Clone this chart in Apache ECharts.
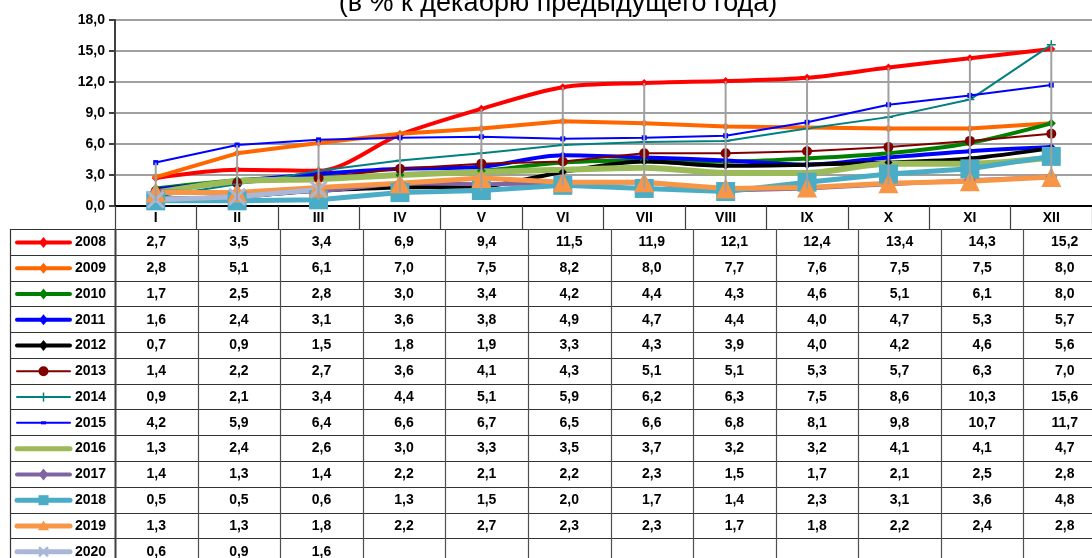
<!DOCTYPE html>
<html>
<head>
<meta charset="utf-8">
<script src="https://cdn.jsdelivr.net/npm/echarts@6/dist/echarts.min.js"></script>
<style>
html,body{margin:0;padding:0;background:#fff;}
#chart{width:1092px;height:558px;}
</style>
</head>
<body>
<div id="chart"></div>
<script>
// ---------- data ----------
const titleText = '(в % к декабрю предыдущего года)';
const categories = ['I','II','III','IV','V','VI','VII','VIII','IX','X','XI','XII'];
const years = ['2008','2009','2010','2011','2012','2013','2014','2015','2016','2017','2018','2019','2020'];
const v2008 = [2.7,3.5,3.4,6.9,9.4,11.5,11.9,12.1,12.4,13.4,14.3,15.2];
const v2009 = [2.8,5.1,6.1,7.0,7.5,8.2,8.0,7.7,7.6,7.5,7.5,8.0];
const v2010 = [1.7,2.5,2.8,3.0,3.4,4.2,4.4,4.3,4.6,5.1,6.1,8.0];
const v2011 = [1.6,2.4,3.1,3.6,3.8,4.9,4.7,4.4,4.0,4.7,5.3,5.7];
const v2012 = [0.7,0.9,1.5,1.8,1.9,3.3,4.3,3.9,4.0,4.2,4.6,5.6];
const v2013 = [1.4,2.2,2.7,3.6,4.1,4.3,5.1,5.1,5.3,5.7,6.3,7.0];
const v2014 = [0.9,2.1,3.4,4.4,5.1,5.9,6.2,6.3,7.5,8.6,10.3,15.6];
const v2015 = [4.2,5.9,6.4,6.6,6.7,6.5,6.6,6.8,8.1,9.8,10.7,11.7];
const v2016 = [1.3,2.4,2.6,3.0,3.3,3.5,3.7,3.2,3.2,4.1,4.1,4.7];
const v2017 = [1.4,1.3,1.4,2.2,2.1,2.2,2.3,1.5,1.7,2.1,2.5,2.8];
const v2018 = [0.5,0.5,0.6,1.3,1.5,2.0,1.7,1.4,2.3,3.1,3.6,4.8];
const v2019 = [1.3,1.3,1.8,2.2,2.7,2.3,2.3,1.7,1.8,2.2,2.4,2.8];
const v2020 = [0.6,0.9,1.6,null,null,null,null,null,null,null,null,null];
const yMin = 0, yMax = 18, yStep = 3;

const allValues = [v2008,v2009,v2010,v2011,v2012,v2013,v2014,v2015,v2016,v2017,v2018,v2019,v2020];

// ---------- styles ----------
const FONT = '"Liberation Sans", Arial, sans-serif';
const plusPath = 'path://M5,0L5,10M0,5L10,5';
const xPath = 'path://M0,0L10,10M10,0L0,10';
const styles = [
  {color:'#FF0000', w:4, sym:'diamond', size:8, smooth:0.3, lw:4, ls:11},
  {color:'#FF6600', w:4, sym:'diamond', size:8, lw:4, ls:11},
  {color:'#008000', w:4, sym:'diamond', size:9, smooth:0.3, lw:4, ls:11},
  {color:'#0000FF', w:4, sym:'diamond', size:8, smooth:0.3, lw:4, ls:11},
  {color:'#000000', w:4, sym:'diamond', size:8, smooth:0.3, lw:4, ls:11},
  {color:'#800000', w:2, sym:'circle', size:10, lw:2, ls:10},
  {color:'#008080', w:2, sym:'plus', size:9, stroke:1.5, lw:2, ls:9},
  {color:'#0000FF', w:2, sym:'rect', size:5, lw:2, ls:5},
  {color:'#9BBB59', w:6, sym:'none', size:0, smooth:0.3, lw:5, ls:0},
  {color:'#8064A2', w:4, sym:'diamond', size:12, lw:4, ls:12},
  {color:'#4BACC6', w:5, sym:'rect', size:19, lw:5, ls:10},
  {color:'#F79646', w:5, sym:'triangle', size:20, lw:5, ls:11},
  {color:'#A9B8D9', w:5, sym:'x', size:16, stroke:3, lw:5, ls:9}
];
const symMap = {plus: plusPath, x: xPath};

// ---------- layout ----------
const G_LEFT = 115, G_TOP = 20, G_W = 991, G_H = 186;
const TABLE_LEFT = 10, TABLE_TOP = 229, ROW_H = 25.78;
const COL_W = G_W / categories.length;
const LEG_X1 = 17, LEG_X2 = 70, LEG_TEXT_X = 75;

const chart = echarts.init(document.getElementById('chart'));

const series = years.map((y, i) => {
  const s = styles[i];
  return {
    name: y, type: 'line', data: allValues[i],
    symbol: symMap[s.sym] || s.sym, symbolSize: s.size, showSymbol: s.sym !== 'none',
    smooth: s.smooth || false,
    lineStyle: {color: s.color, width: s.w},
    itemStyle: {color: s.color, borderColor: s.color, borderWidth: s.stroke || 0},
    emphasis: {disabled: true},
    animation: false, z: 2
  };
});

const hiLo = categories.map((c, i) => {
  const vals = allValues.map(a => a[i]).filter(v => v !== null);
  return [i, Math.min(...vals), Math.max(...vals)];
});
series.push({
  type: 'custom', name: 'hilo', data: hiLo, z: 5, animation: false,
  renderItem: function (params, api) {
    const lo = api.coord([api.value(0), api.value(1)]);
    const hi = api.coord([api.value(0), api.value(2)]);
    return {type: 'line', shape: {x1: lo[0], y1: lo[1], x2: hi[0], y2: hi[1]},
            style: {stroke: '#A0A0A0', lineWidth: 2}};
  }
});

// legend symbol builder
function legendSymbol(s, cx, cy) {
  const h = s.ls / 2;
  const st = {fill: s.color, stroke: s.color, lineWidth: 0};
  switch (s.sym) {
    case 'diamond': return {type:'polygon', shape:{points:[[cx,cy-h],[cx+h*0.8,cy],[cx,cy+h],[cx-h*0.8,cy]]}, style: st, z: 11};
    case 'circle': return {type:'circle', shape:{cx: cx, cy: cy, r: h}, style: st, z: 11};
    case 'rect': return {type:'rect', shape:{x: cx-h, y: cy-h*(s.ls>6?1:0.6), width: s.ls, height: s.ls*(s.ls>6?1:0.6)}, style: st, z: 11};
    case 'triangle': return {type:'polygon', shape:{points:[[cx,cy-h],[cx+h,cy+h*0.8],[cx-h,cy+h*0.8]]}, style: st, z: 11};
    case 'plus': return {type:'group', z: 11, children:[
      {type:'line', shape:{x1:cx,y1:cy-h,x2:cx,y2:cy+h}, style:{stroke:s.color, lineWidth:1.5}, z: 11},
      {type:'line', shape:{x1:cx-h,y1:cy,x2:cx+h,y2:cy}, style:{stroke:s.color, lineWidth:1.5}, z: 11}]};
    case 'x': return {type:'group', z: 11, children:[
      {type:'line', shape:{x1:cx-h,y1:cy-h,x2:cx+h,y2:cy+h}, style:{stroke:s.color, lineWidth:2.5}, z: 11},
      {type:'line', shape:{x1:cx+h,y1:cy-h,x2:cx-h,y2:cy+h}, style:{stroke:s.color, lineWidth:2.5}, z: 11}]};
    default: return null;
  }
}

// table graphics
const graphics = [];
graphics.push({type:'text', x: 558, y: 4, z: 10,
  style:{text: titleText, font: '27px ' + FONT, fill:'#000', align:'center', verticalAlign:'middle'}});
const nRows = years.length;
const tableRight = G_LEFT + G_W;
for (let r = 0; r <= nRows; r++) {
  const y = Math.round(TABLE_TOP + r * ROW_H) + 0.5;
  graphics.push({type:'line', shape:{x1: TABLE_LEFT, y1: y, x2: tableRight, y2: y},
    style:{stroke:'#333', lineWidth:1.2}, z: 10});
}
graphics.push({type:'line', shape:{x1: TABLE_LEFT + 0.5, y1: TABLE_TOP, x2: TABLE_LEFT + 0.5, y2: 558},
  style:{stroke:'#333', lineWidth:1.2}, z: 10});
for (let c = 0; c <= categories.length; c++) {
  const x = Math.round(G_LEFT + c * COL_W) + 0.5;
  graphics.push({type:'line', shape:{x1: x, y1: TABLE_TOP, x2: x, y2: 558},
    style:{stroke: c === 0 ? '#404040' : '#505050', lineWidth: c === 0 ? 2 : 1.2}, z: 10});
}
for (let r = 0; r < nRows; r++) {
  const cy = TABLE_TOP + (r + 0.5) * ROW_H + 0.5;
  const s = styles[r];
  // legend key
  graphics.push({type:'line', shape:{x1: LEG_X1, y1: cy, x2: LEG_X2, y2: cy},
    style:{stroke: s.color, lineWidth: s.lw, lineCap: 'round'}, z: 10});
  const sym = legendSymbol(s, (LEG_X1 + LEG_X2) / 2, cy);
  if (sym) graphics.push(sym);
  graphics.push({type:'text', x: LEG_TEXT_X, y: cy, z: 10,
    style:{text: years[r], font:'bold 14px ' + FONT, fill:'#000', align:'left', verticalAlign:'middle'}});
  for (let c = 0; c < categories.length; c++) {
    const v = allValues[r][c];
    if (v === null) continue;
    graphics.push({type:'text', x: G_LEFT + (c + 0.5) * COL_W, y: cy, z: 10,
      style:{text: v.toFixed(1).replace('.', ','), font:'bold 14px ' + FONT, fill:'#000',
             align:'center', verticalAlign:'middle'}});
  }
}

chart.setOption({
  animation: false,
  backgroundColor: '#fff',
  textStyle: {fontFamily: FONT},
  grid: {left: G_LEFT, top: G_TOP, width: G_W, height: G_H, containLabel: false},
  xAxis: {
    type: 'category', data: categories, boundaryGap: true,
    axisLine: {lineStyle: {color: '#000', width: 2}},
    axisTick: {show: true, length: 23, lineStyle: {color: '#404040', width: 1.2}},
    axisLabel: {fontFamily: FONT, fontSize: 14, fontWeight: 'bold', color: '#000', margin: 5},
    splitLine: {show: false}
  },
  yAxis: {
    type: 'value', min: yMin, max: yMax, interval: yStep,
    axisLine: {show: true, lineStyle: {color: '#404040', width: 2}},
    axisTick: {show: true, length: 6, lineStyle: {color: '#404040', width: 2}},
    axisLabel: {fontFamily: FONT, fontSize: 14, fontWeight: 'bold', color: '#000', margin: 10,
      formatter: v => v.toFixed(1).replace('.', ',')},
    splitLine: {show: true, lineStyle: {color: '#A0A0A0', width: 2}}
  },
  graphic: graphics,
  series: series
});
</script>
</body>
</html>
